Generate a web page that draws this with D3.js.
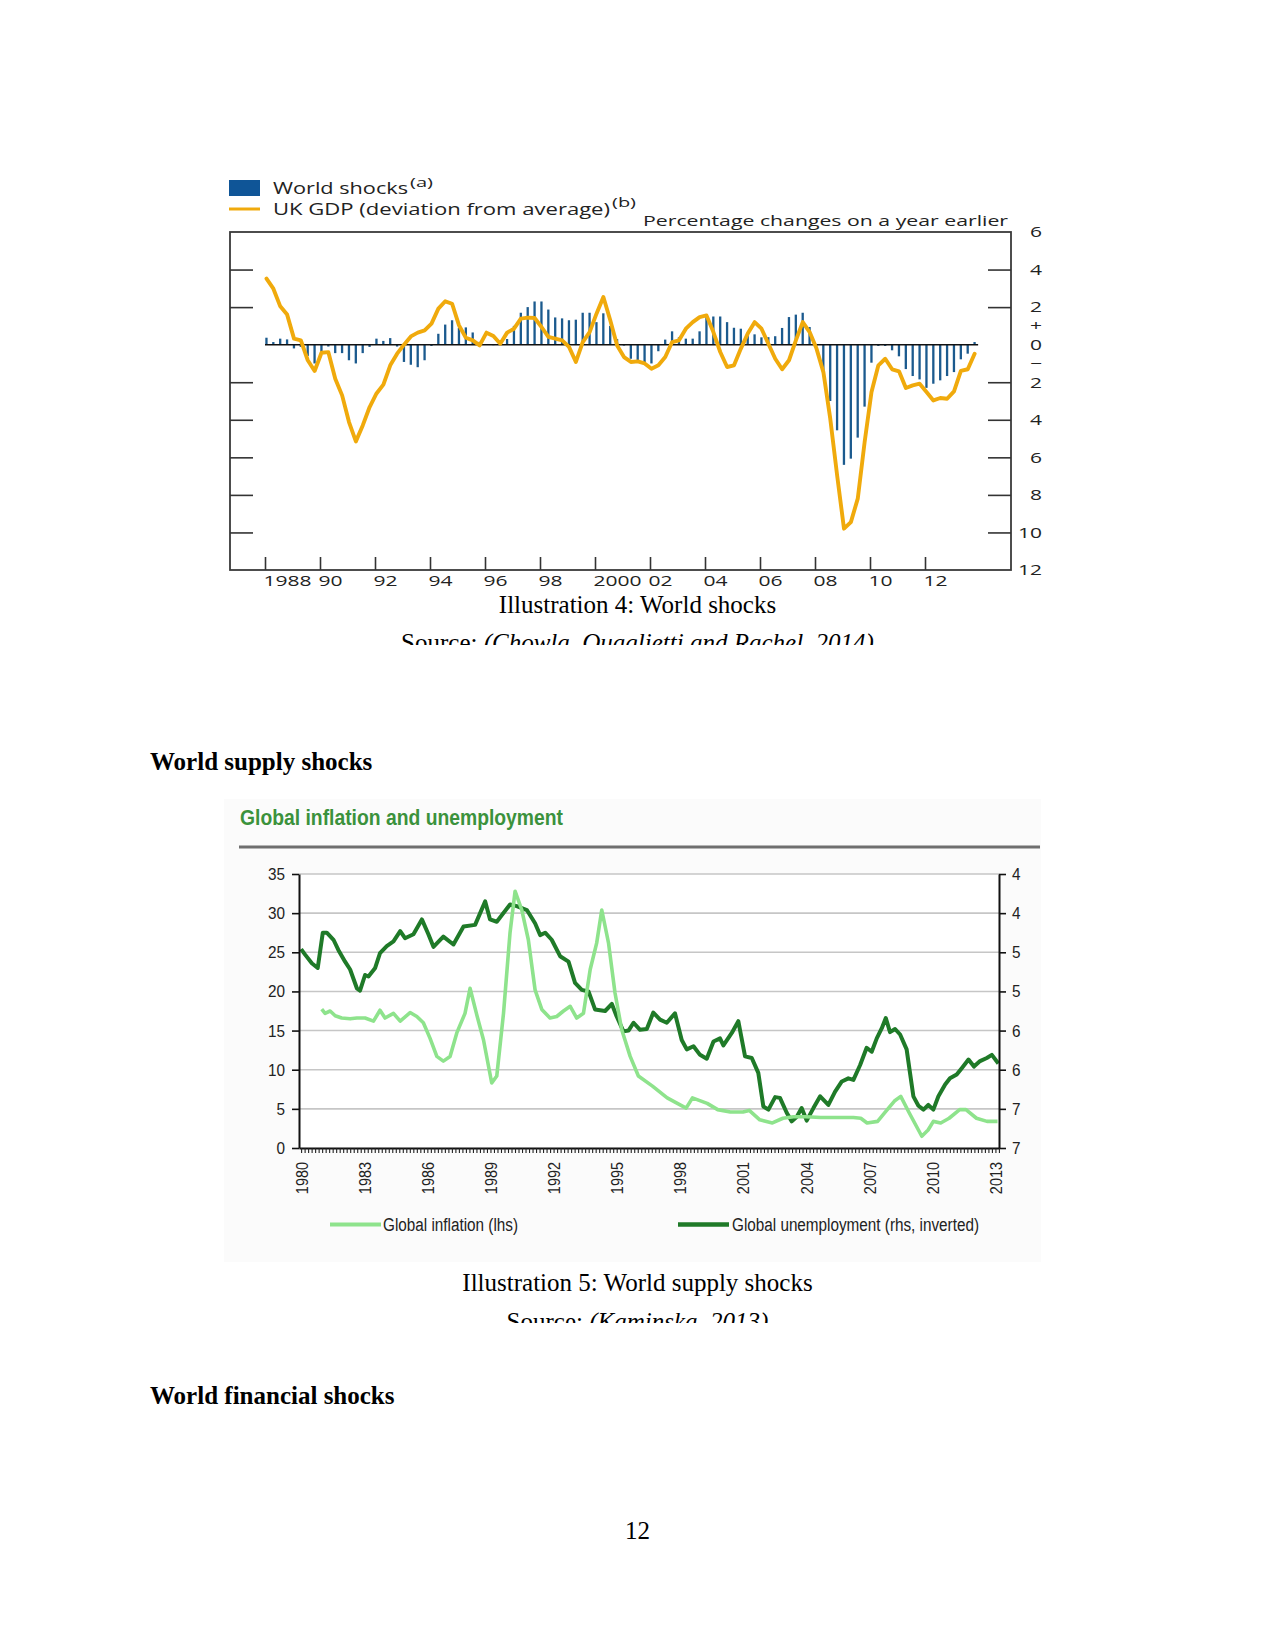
<!DOCTYPE html>
<html><head><meta charset="utf-8">
<script src="https://cdn.jsdelivr.net/npm/d3@7"></script>
<style>body{margin:0;background:#fff} svg{display:block}</style>
</head><body>
<svg id="page" width="1275" height="1650"></svg>
<script>
// ---------- Chart 1 data: quarterly, 1988 Q1 - 2013 Q4 ----------
const startYear1 = 1988;
const worldShocks = [
 0.37,0.14,0.32,0.28, -0.2,-0.12,-0.6,-1.0, -0.4,-0.1,-0.45,-0.45, -0.83,-1.0,-0.45,-0.12,
 0.32,0.2,0.35,-0.1, -0.92,-1.07,-1.2,-0.83, -0.07,0.58,1.07,1.3, 0.9,0.92,0.65,0.15,
 0.02,-0.03,0.02,0.3, 1.0,1.7,2.0,2.3, 2.3,1.87,1.45,1.4, 1.3,1.33,1.7,1.7,
 1.2,1.67,1.0,0.3, -0.05,-0.75,-0.92,-0.98, -1.0,-0.35,0.27,0.71, 0.39,0.32,0.32,0.71,
 1.5,1.5,1.5,1.2, 0.9,0.85,0.5,0.55, 0.39,0.4,0.45,0.89, 1.47,1.6,1.7,0.94,
 -0.05,-1.5,-3.0,-4.56, -6.4,-6.07,-4.95,-3.3, -0.96,-0.07,-0.07,-0.3, -0.62,-1.3,-1.67,-1.85,
 -2.3,-2.08,-1.9,-1.67, -1.46,-0.78,-0.48,0.14];
const ukGdp = [
 3.52,2.98,2.04,1.6, 0.32,0.23,-0.83,-1.4, -0.43,-0.4,-1.81,-2.7, -4.12,-5.15,-4.3,-3.32,
 -2.6,-2.13,-1.1,-0.48, 0.0,0.44,0.64,0.76, 1.12,1.92,2.31,2.18, 1.03,0.37,0.23,-0.04,
 0.64,0.46,0.05,0.64, 0.85,1.39,1.44,1.42, 0.94,0.41,0.32,0.23, -0.12,-0.92,0.14,0.67,
 1.65,2.54,1.3,-0.04, -0.66,-0.92,-0.89,-1.0, -1.28,-1.1,-0.66,0.14, 0.23,0.85,1.2,1.47,
 1.56,0.67,-0.39,-1.19, -1.1,-0.21,0.59,1.2, 0.85,0.05,-0.75,-1.31, -0.83,0.23,1.2,0.67,
 -0.21,-1.46,-3.94,-6.96, -9.8,-9.45,-8.2,-5.19, -2.52,-1.1,-0.75,-1.31, -1.42,-2.31,-2.17,-2.08,
 -2.52,-2.97,-2.84,-2.88, -2.49,-1.4,-1.31,-0.48];
const xTickYears1 = [1988,1990,1992,1994,1996,1998,2000,2002,2004,2006,2008,2010,2012];
const xTickLabels1 = ["1988","90","92","94","96","98","2000","02","04","06","08","10","12"];
const yMarkValues1 = [4,2,-2,-4,-6,-8,-10];
const yLabelValues1 = [6,4,2,1,0,-1,-2,-4,-6,-8,-10,-12];
const yLabelTexts1 = ["6","4","2","+","0","\u2212","2","4","6","8","10","12"];

// ---------- Chart 2 data ----------
const inflYears = [1980.98,1981.14,1981.38,1981.62,1981.93,1982.33,1982.65,1983.04,1983.44,1983.75,
 1983.99,1984.39,1984.71,1985.18,1985.50,1985.81,1986.13,1986.45,1986.76,1987.08,
 1987.40,1987.79,1988.03,1988.35,1988.67,1989.06,1989.30,1989.62,1989.93,1990.17,
 1990.49,1990.80,1991.12,1991.44,1991.83,1992.15,1992.47,1992.79,1993.10,1993.42,
 1993.74,1994.05,1994.29,1994.61,1994.92,1995.24,1995.64,1996.03,
 1996.7,1997.4,1998.3,1998.6,1999.3,1999.8,2000.4,2001.0,2001.3,2001.8,
 2002.4,2002.9,2003.4,2004.0,2004.7,2005.5,2006.25,2006.6,2006.9,2007.4,
 2007.8,2008.2,2008.5,2008.9,2009.5,2009.8,2010.05,2010.4,2010.8,2011.3,
 2011.6,2012.1,2012.6,2013.1];
const inflation = [17.75,17.2,17.5,16.9,16.6,16.5,16.6,16.6,16.2,17.6,
 16.6,17.2,16.2,17.3,16.8,16.0,14.0,11.7,11.1,11.7,
 14.7,17.2,20.4,17.0,13.8,8.3,9.2,17.2,27.5,32.8,
 30.4,26.6,20.2,17.7,16.6,16.8,17.5,18.1,16.6,17.2,
 22.8,26.2,30.4,26.2,19.8,15.1,11.7,9.2,
 7.9,6.4,5.1,6.4,5.7,4.9,4.6,4.6,4.8,3.6,
 3.2,3.8,4.0,4.0,3.9,3.9,3.9,3.8,3.2,3.4,
 4.7,6.0,6.6,4.5,1.5,2.3,3.4,3.2,3.8,4.9,
 4.9,3.8,3.4,3.4];
const unempYears = [1980.00,1980.19,1980.51,1980.79,1981.03,1981.22,1981.54,1981.77,1982.09,1982.33,
 1982.65,1982.80,1983.04,1983.20,1983.52,1983.75,1984.07,1984.39,1984.71,1984.94,
 1985.34,1985.74,1986.05,1986.29,1986.76,1987.24,1987.72,1988.27,1988.75,1988.98,
 1989.30,1989.93,1990.25,1990.73,1991.12,1991.36,1991.60,1991.91,1992.31,1992.71,
 1993.02,1993.34,1993.66,1993.97,1994.45,1994.77,1995.00,1995.32,1995.56,1995.80,
 1996.11,1996.43,1996.74,1997.06,1997.38,1997.77,1998.09,1998.33,1998.65,1998.96,
 1999.28,1999.60,1999.91,2000.07,2000.47,2000.78,2001.10,2001.42,2001.73,2001.97,
 2002.21,2002.53,2002.76,2003.08,2003.32,2003.56,2003.79,2004.03,2004.35,2004.67,
 2005.06,2005.38,2005.70,2006.01,2006.25,2006.57,2006.88,2007.12,2007.36,2007.60,
 2007.79,2007.99,2008.23,2008.47,2008.78,2008.94,2009.10,2009.34,2009.58,2009.81,
 2010.05,2010.29,2010.61,2010.84,2011.16,2011.40,2011.72,2011.98,2012.27,2012.59,
 2012.83,2013.14];
const unemployment = [4.71,4.78,4.89,4.95,4.50,4.50,4.59,4.72,4.87,4.97,
 5.21,5.24,5.04,5.06,4.95,4.76,4.67,4.61,4.48,4.57,
 4.52,4.33,4.52,4.68,4.55,4.65,4.42,4.40,4.10,4.33,
 4.36,4.14,4.16,4.21,4.38,4.53,4.50,4.59,4.80,4.87,
 5.14,5.23,5.25,5.48,5.50,5.41,5.57,5.76,5.75,5.65,
 5.74,5.73,5.52,5.61,5.65,5.53,5.87,5.99,5.95,6.06,
 6.11,5.89,5.85,5.94,5.78,5.63,6.08,6.10,6.29,6.72,
 6.76,6.60,6.61,6.80,6.91,6.85,6.74,6.90,6.74,6.59,
 6.70,6.53,6.40,6.36,6.38,6.19,5.97,6.02,5.85,5.72,
 5.59,5.77,5.73,5.80,5.99,6.29,6.59,6.71,6.76,6.70,
 6.76,6.59,6.44,6.36,6.31,6.23,6.12,6.21,6.14,6.10,
 6.06,6.17];
const leftTicks2 = [0,5,10,15,20,25,30,35];
const rightTicks2 = [3.75,4.25,4.75,5.25,5.75,6.25,6.75,7.25];
const yearLabels2 = [1980,1983,1986,1989,1992,1995,1998,2001,2004,2007,2010,2013];

// ---------- helpers ----------
const page = d3.select('#page');
function fit(sel, w){ sel.attr('textLength', w).attr('lengthAdjust','spacingAndGlyphs'); return sel; }
function scaleText(sel, k){ sel.each(function(){ const w=this.getComputedTextLength(); d3.select(this).attr('textLength', w*k).attr('lengthAdjust','spacingAndGlyphs'); }); }
function txt(g, s, x, y, opts){
  const t = g.append('text').attr('x',x).attr('y',y).text(s);
  for (const k in opts) t.attr(k, opts[k]);
  return t;
}

// ---------- Page text ----------
const serif = {'font-family':'"Liberation Serif","Times New Roman",serif','font-size':25,'fill':'#000'};
txt(page,'Illustration 4: World shocks',637.5,613,{...serif,'text-anchor':'middle'});
page.append('clipPath').attr('id','clipS4').append('rect').attr('x',0).attr('y',0).attr('width',1275).attr('height',645);
const s4 = page.append('text').attr('x',637.5).attr('y',651).attr('text-anchor','middle').attr('clip-path','url(#clipS4)')
  .attr('font-family',serif['font-family']).attr('font-size',25);
s4.append('tspan').text('Source: ');
s4.append('tspan').attr('font-style','italic').text('(Chowla, Quaglietti and Rachel, 2014)');

txt(page,'World supply shocks',150,770,{...serif,'font-weight':'bold'});
txt(page,'Illustration 5: World supply shocks',637.5,1291,{...serif,'text-anchor':'middle'});
page.append('clipPath').attr('id','clipS5').append('rect').attr('x',0).attr('y',0).attr('width',1275).attr('height',1323);
const s5 = page.append('text').attr('x',637.5).attr('y',1330).attr('text-anchor','middle').attr('clip-path','url(#clipS5)')
  .attr('font-family',serif['font-family']).attr('font-size',25);
s5.append('tspan').text('Source: ');
s5.append('tspan').attr('font-style','italic').text('(Kaminska, 2013)');
txt(page,'World financial shocks',150,1404,{...serif,'font-weight':'bold'});
txt(page,'12',637.5,1539,{...serif,'text-anchor':'middle'});

// ---------- Chart 1 ----------
const BLUE = '#1b5a8e', YELLOW = '#f0aa0c';
const c1 = page.append('g').attr('font-family','"Open Sans","Noto Sans",sans-serif').attr('fill','#222');
c1.append('rect').attr('x',229).attr('y',180).attr('width',31).attr('height',16).attr('fill','#0f5597');
c1.append('line').attr('x1',229).attr('x2',260).attr('y1',209).attr('y2',209).attr('stroke',YELLOW).attr('stroke-width',3);
fit(txt(c1,'World shocks',273,194,{'font-size':16}),135);
fit(txt(c1,'(a)',410,187,{'font-size':13}),23);
fit(txt(c1,'UK GDP (deviation from average)',273,215,{'font-size':16}),337);
fit(txt(c1,'(b)',612,207,{'font-size':13}),24);
fit(txt(c1,'Percentage changes on a year earlier',643,226,{'font-size':15}),365);

const x1 = d3.scaleLinear().domain([1988,2014]).range([265,980]);
const y1 = d3.scaleLinear().domain([6,-12]).range([232,570]);
const q1 = worldShocks.map((v,i)=>({t:startYear1+i/4, v}));
const g1 = ukGdp.map((v,i)=>({t:startYear1+i/4, v}));

c1.append('rect').attr('x',230).attr('y',232).attr('width',781).attr('height',338)
  .attr('fill','none').attr('stroke','#3a3a3a').attr('stroke-width',1.8);

c1.append('g').selectAll('rect').data(q1).join('rect')
  .attr('x',d=>x1(d.t)+0.3).attr('width',2.3)
  .attr('y',d=>Math.min(y1(d.v),y1(0))).attr('height',d=>Math.abs(y1(d.v)-y1(0)))
  .attr('fill',BLUE);
c1.append('line').attr('x1',x1(1988)).attr('x2',x1(2013.75)+5).attr('y1',y1(0)).attr('y2',y1(0))
  .attr('stroke','#111').attr('stroke-width',1.5);
c1.append('path').datum(g1).attr('fill','none').attr('stroke',YELLOW).attr('stroke-width',3.9)
  .attr('stroke-linejoin','round').attr('stroke-linecap','round')
  .attr('d', d3.line().x(d=>x1(d.t)+1.5).y(d=>y1(d.v)));

function styleAxis(g, color, w){ g.select('.domain').remove(); g.selectAll('line').attr('stroke',color).attr('stroke-width',w); }
const al = c1.append('g').attr('transform','translate(230,0)')
  .call(d3.axisLeft(y1).tickValues(yMarkValues1).tickSize(-23).tickFormat(''));
styleAxis(al,'#333',1.6);
const ar = c1.append('g').attr('transform','translate(1011,0)')
  .call(d3.axisRight(y1).tickValues(yMarkValues1).tickSize(-23).tickFormat(''));
styleAxis(ar,'#333',1.6);
const arl = c1.append('g').attr('transform','translate(1011,0)')
  .call(d3.axisRight(y1).tickValues(yLabelValues1).tickSize(0).tickFormat((d,i)=>yLabelTexts1[i]));
arl.select('.domain').remove();
arl.selectAll('text').attr('x',31).attr('text-anchor','end').attr('font-size',15)
  .attr('font-family','"Open Sans","Noto Sans",sans-serif').attr('fill','#222');
scaleText(arl.selectAll('text'),1.4);
const ab = c1.append('g').attr('transform','translate(0,570)')
  .call(d3.axisBottom(x1).tickValues(xTickYears1).tickSize(-13).tickFormat((d,i)=>xTickLabels1[i]));
styleAxis(ab,'#333',1.6);
ab.selectAll('text').attr('x',-2).attr('y',6).attr('dy','0.71em').attr('text-anchor','start').attr('font-size',14.5)
  .attr('font-family','"Open Sans","Noto Sans",sans-serif').attr('fill','#222');
scaleText(ab.selectAll('text'),1.45);

// ---------- Chart 2 ----------
const LIGHT = '#8ee38c', DARK = '#1f7a28';
const sans = '"Liberation Sans",Arial,sans-serif';
const c2 = page.append('g').attr('font-family',sans);
c2.append('rect').attr('x',224).attr('y',799).attr('width',817).attr('height',463).attr('fill','#fbfbfb');
fit(txt(c2,'Global inflation and unemployment',240,825,{'font-size':22,'font-weight':'bold','fill':'#3b923c'}),323);
c2.append('line').attr('x1',239).attr('x2',1040).attr('y1',847).attr('y2',847).attr('stroke','#6f6f6f').attr('stroke-width',3);

const x2 = d3.scaleLinear().domain([1979.9,2013.17]).range([299,999]);
const yL = d3.scaleLinear().domain([0,35]).range([1148,874]);
const yR = d3.scaleLinear().domain([3.75,7.25]).range([874,1148]);
c2.append('rect').attr('x',299).attr('y',874).attr('width',700).attr('height',274).attr('fill','#fff');
c2.append('g').selectAll('line').data(leftTicks2.filter(d=>d>0)).join('line')
  .attr('x1',299).attr('x2',999).attr('y1',d=>yL(d)).attr('y2',d=>yL(d))
  .attr('stroke','#c6c6c6').attr('stroke-width',1.6);

const infl = inflation.map((v,i)=>({t:inflYears[i], v}));
const unem = unemployment.map((v,i)=>({t:unempYears[i], v}));
c2.append('path').datum(unem).attr('fill','none').attr('stroke',DARK).attr('stroke-width',4)
  .attr('stroke-linejoin','round').attr('d',d3.line().x(d=>x2(d.t)).y(d=>yR(d.v)));
c2.append('path').datum(infl).attr('fill','none').attr('stroke',LIGHT).attr('stroke-width',3.6)
  .attr('stroke-linejoin','round').attr('d',d3.line().x(d=>x2(d.t)).y(d=>yL(d.v)));

const axL = c2.append('g').attr('transform','translate(299,0)')
  .call(d3.axisLeft(yL).tickValues(leftTicks2).tickSize(7).tickSizeOuter(0).tickPadding(7));
const axR = c2.append('g').attr('transform','translate(999,0)')
  .call(d3.axisRight(yR).tickValues(rightTicks2).tickFormat(d3.format('.0f')).tickSize(7).tickSizeOuter(0).tickPadding(6));
const comb = d3.range(0,200).map(i=>1980+i/6).filter(t=>t<=2013.17);
const axB = c2.append('g').attr('transform','translate(0,1148)')
  .call(d3.axisBottom(x2).tickValues(comb).tickSize(5).tickSizeOuter(0).tickFormat(''));
[axL,axR].forEach(a=>{ a.select('.domain').attr('stroke','#111').attr('stroke-width',2);
  a.selectAll('line').attr('stroke','#111').attr('stroke-width',1.6);
  a.selectAll('text').attr('font-family',sans).attr('font-size',17).attr('fill','#222'); });
axB.select('.domain').attr('stroke','#111').attr('stroke-width',2);
axB.selectAll('line').attr('stroke','#222').attr('stroke-width',1.1);
scaleText(axL.selectAll('text'),0.9);
scaleText(axR.selectAll('text'),0.9);
const axY = c2.append('g').attr('transform','translate(0,1148)')
  .call(d3.axisBottom(x2).tickValues(yearLabels2).tickSize(0).tickFormat(d3.format('d')));
axY.select('.domain').remove();
axY.selectAll('text').attr('transform','rotate(-90)').attr('x',-14).attr('y',0).attr('dy','0.35em')
  .attr('text-anchor','end').attr('font-family',sans).attr('font-size',17).attr('fill','#222');
scaleText(axY.selectAll('text'),0.85);

// legend
c2.append('line').attr('x1',330).attr('x2',381).attr('y1',1224.5).attr('y2',1224.5).attr('stroke',LIGHT).attr('stroke-width',4);
fit(txt(c2,'Global inflation (lhs)',383,1231,{'font-size':18,'fill':'#222'}),135);
c2.append('line').attr('x1',678).attr('x2',729).attr('y1',1224.5).attr('y2',1224.5).attr('stroke',DARK).attr('stroke-width',4.5);
fit(txt(c2,'Global unemployment (rhs, inverted)',732,1231,{'font-size':18,'fill':'#222'}),247);
</script>
</body></html>
